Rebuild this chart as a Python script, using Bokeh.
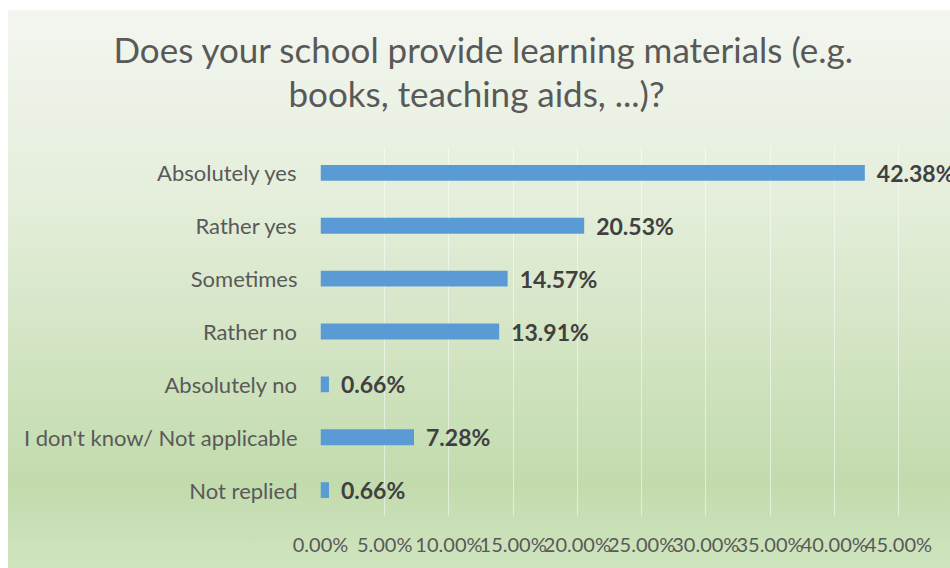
from bokeh.plotting import figure
from bokeh.models import (ColumnDataSource, FactorRange, Range1d, FixedTicker,
                          PrintfTickFormatter, Title, LabelSet)
from bokeh.core.properties import value
from bokeh.embed import file_html
from bokeh.resources import INLINE

categories = ["Absolutely yes", "Rather yes", "Sometimes", "Rather no",
              "Absolutely no", "I don't know/ Not applicable", "Not replied"]
values = [42.38, 20.53, 14.57, 13.91, 0.66, 7.28, 0.66]
value_labels = ["42.38%", "20.53%", "14.57%", "13.91%", "0.66%", "7.28%", "0.66%"]
x_ticks = [0, 5, 10, 15, 20, 25, 30, 35, 40, 45]

src = ColumnDataSource(dict(cat=categories, val=values, lab=value_labels))

p = figure(width=950, height=568, output_backend="svg", toolbar_location=None,
           y_range=FactorRange(*reversed(categories)), x_range=Range1d(0, 49.05),
           min_border_left=320, min_border_right=0, min_border_top=146,
           min_border_bottom=52, title=None)

p.styles = {"background": "linear-gradient(to bottom, #f3f6f0 0%, #e4eeda 35%, #c2dbad 85%, #cfe5bf 100%) 8px 10px / 942px 558px no-repeat, #ffffff"}
p.background_fill_alpha = 0
p.border_fill_alpha = 0
p.outline_line_color = None

p.hbar(y="cat", right="val", height=0.3, left=0, source=src,
       fill_color="#5B9BD5", line_color=None)

labels = LabelSet(x="val", y="cat", text="lab", source=src, x_offset=12,
                  text_baseline="middle", text_font=value("Lato"),
                  text_font_size="23px", text_font_style="bold", text_color="#404040")
p.add_layout(labels)

spacer = Title(text=" ", text_font="Lato", text_font_size="10px", standoff=19)
t2 = Title(text="books, teaching aids, ...)?", align="left", text_font="Lato",
           text_font_size="35px", text_font_style="normal", text_color="#595959",
           standoff=0, offset=-32)
t1 = Title(text="Does your school provide learning materials (e.g.", align="left",
           text_font="Lato", text_font_size="35px", text_font_style="normal",
           text_color="#595959", standoff=0, offset=-207)
p.add_layout(spacer, "above")
p.add_layout(t2, "above")
p.add_layout(t1, "above")

p.xaxis.ticker = FixedTicker(ticks=x_ticks)
p.xaxis.formatter = PrintfTickFormatter(format="%.2f%%")
p.xaxis.axis_line_color = None
p.xaxis.major_tick_line_color = None
p.xaxis.minor_tick_line_color = None
p.xaxis.major_label_standoff = 9
p.xaxis.major_label_text_font = "Lato"
p.xaxis.major_label_text_font_size = "20px"
p.xaxis.major_label_text_color = "#595959"

p.yaxis.axis_line_color = None
p.yaxis.major_tick_line_color = None
p.yaxis.minor_tick_line_color = None
p.yaxis.major_label_standoff = 17
p.yaxis.major_label_text_font = "Lato"
p.yaxis.major_label_text_font_size = "22px"
p.yaxis.major_label_text_color = "#595959"

p.ygrid.grid_line_color = None
p.xgrid.grid_line_color = "#ffffff"
p.xgrid.grid_line_alpha = 0.5
p.xgrid.grid_line_width = 1

open("out.html", "w").write(file_html(p, INLINE))
